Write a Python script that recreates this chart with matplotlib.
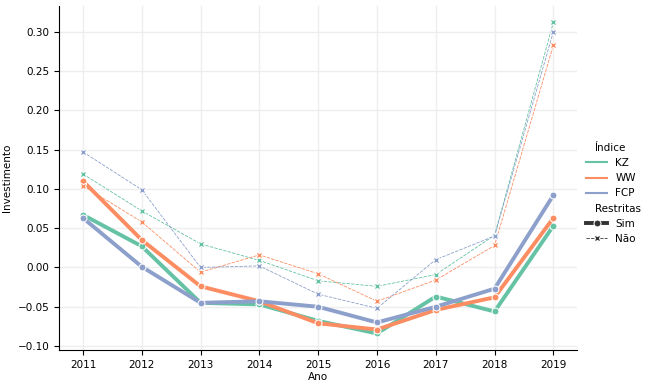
import pandas as pd
import matplotlib
matplotlib.use("Agg")
import matplotlib.pyplot as plt
import seaborn as sns

# anos e valores
anos = [2011, 2012, 2013, 2014, 2015, 2016, 2017, 2018, 2019]

kz_sim = [0.067, 0.027, -0.045, -0.047, -0.068, -0.084, -0.037, -0.056, 0.053]
ww_sim = [0.110, 0.035, -0.024, -0.043, -0.071, -0.079, -0.054, -0.038, 0.063]
fcp_sim = [0.063, 0.001, -0.045, -0.043, -0.050, -0.070, -0.050, -0.027, 0.092]

kz_nao = [0.119, 0.072, 0.030, 0.009, -0.017, -0.024, -0.009, 0.041, 0.312]
ww_nao = [0.104, 0.058, -0.006, 0.016, -0.008, -0.043, -0.016, 0.028, 0.283]
fcp_nao = [0.147, 0.099, 0.000, 0.002, -0.034, -0.052, 0.010, 0.040, 0.300]

series = {
    ('KZ', 'Sim'): kz_sim, ('WW', 'Sim'): ww_sim, ('FCP', 'Sim'): fcp_sim,
    ('KZ', 'Não'): kz_nao, ('WW', 'Não'): ww_nao, ('FCP', 'Não'): fcp_nao,
}

rows = []
for (indice, restr), vals in series.items():
    for ano, v in zip(anos, vals):
        rows.append({'Ano': ano, 'Investimento': v, 'Índice': indice, 'Restritas': restr})
df = pd.DataFrame(rows)

fig, ax = plt.subplots(figsize=(6.46, 3.88), dpi=100)
sns.lineplot(data=df, x='Ano', y='Investimento', hue='Índice', style='Restritas',
             size='Restritas', sizes={'Sim': 2.8, 'Não': 0.6},
             hue_order=['KZ', 'WW', 'FCP'], style_order=['Sim', 'Não'],
             markers=['o', 'X'], markersize=5, palette='Set2', ax=ax)

ax.set_xticks(anos)
ax.set_ylim(-0.105, 0.333)
ax.grid(True, color='#eeeeee', linewidth=1)
ax.spines['top'].set_visible(False)
ax.spines['right'].set_visible(False)
ax.tick_params(labelsize=7.5)
ax.set_xlabel('Ano', fontsize=7.5, labelpad=2)
ax.set_ylabel('Investimento', fontsize=7.5)

leg = ax.legend(loc='center left', bbox_to_anchor=(1.0, 0.455), frameon=False, fontsize=7.5)
# subtítulos (Índice, Restritas) sem espaço de handle, como no original
subtitulos = {'Índice', 'Restritas'}
for coluna in leg._legend_handle_box.get_children():
    for hpack in coluna.get_children():
        draw_area, text_area = hpack.get_children()
        textos = [t.get_text() for t in text_area.findobj(matplotlib.text.Text)]
        if any(t in subtitulos for t in textos):
            draw_area.set_width(0)
            for a in draw_area.get_children():
                a.set_visible(False)

fig.subplots_adjust(left=0.092, right=0.893, top=0.985, bottom=0.098)
fig.savefig('out.png', dpi=100)
